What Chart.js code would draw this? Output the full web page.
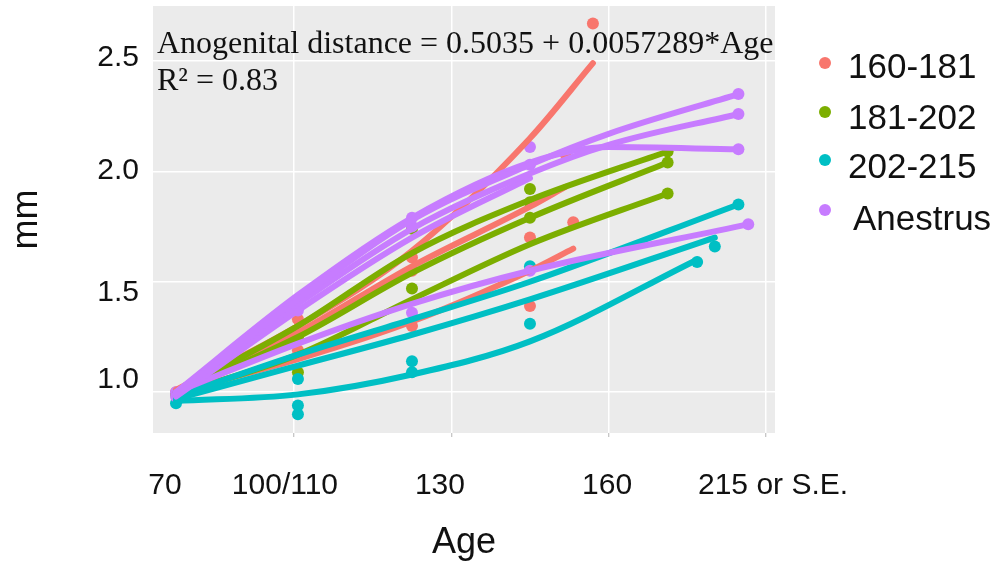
<!DOCTYPE html>
<html>
<head>
<meta charset="utf-8">
<script src="https://cdn.jsdelivr.net/npm/chart.js@4.4.0/dist/chart.umd.min.js"></script>
<style>
  body { margin: 0; background: #ffffff; }
  canvas { display: block; }
</style>
</head>
<body>
<canvas id="agdCanvas" width="1008" height="569"></canvas>
<script>
  const groupNames = ['160-181', '181-202', '202-215', 'Anestrus'];
  const groupColors = ['#F8766D', '#7CAE00', '#00BFC4', '#C77CFF'];

  // smoothed curve per animal (age in days, distance in mm)
  const redCurveAges = [[70, 101, 130, 160, 176], [70, 101, 130, 160, 171], [70, 101, 130, 160, 169]];
  const redCurveMm = [[1.01, 1.30, 1.64, 2.15, 2.49], [1.00, 1.15, 1.32, 1.55, 1.65], [1.00, 1.27, 1.57, 1.84, 1.93]];
  const greenCurveAges = [[70, 101, 130, 160, 195], [70, 101, 130, 160, 195], [70, 101, 130, 160, 195]];
  const greenCurveMm = [[1.00, 1.30, 1.63, 1.87, 2.09], [1.00, 1.25, 1.54, 1.79, 2.04], [0.99, 1.17, 1.42, 1.67, 1.90]];
  const cyanCurveAges = [[70, 101, 130, 160, 213], [70, 101, 130, 160, 207], [70, 101, 130, 160, 202.5]];
  const cyanCurveMm = [[0.98, 1.17, 1.33, 1.50, 1.85], [0.97, 1.12, 1.26, 1.42, 1.70], [0.96, 0.99, 1.08, 1.23, 1.60]];
  const purpleCurveAges = [[70, 101, 130, 160, 180, 213], [70, 101, 130, 160, 180, 213], [70, 101, 130, 160, 180, 213], [70, 101, 130, 160], [70, 101, 130, 160, 215.5]];
  const purpleCurveMm = [[0.99, 1.42, 1.78, 2.03, 2.17, 2.35], [1.00, 1.40, 1.74, 1.99, 2.12, 2.26], [1.00, 1.44, 1.79, 2.04, 2.11, 2.10], [0.98, 1.37, 1.70, 1.97], [1.00, 1.22, 1.40, 1.55, 1.76]];

  // measured points
  const redPointAges = [70, 101, 101, 101, 130, 130, 130, 160, 160, 169, 171, 176];
  const redPointMm = [1.00, 1.33, 1.25, 1.19, 1.61, 1.55, 1.30, 1.70, 1.39, 2.08, 1.77, 2.67];
  const greenPointAges = [70, 101, 101, 130, 130, 160, 160, 160, 195, 195, 195];
  const greenPointMm = [0.99, 1.25, 1.09, 1.74, 1.47, 1.92, 1.86, 1.79, 2.09, 2.04, 1.90];
  const cyanPointAges = [70, 101, 101, 101, 130, 130, 160, 160, 202.5, 207, 213];
  const cyanPointMm = [0.95, 1.06, 0.94, 0.90, 1.14, 1.09, 1.57, 1.31, 1.59, 1.66, 1.85];
  const purplePointAges = [70, 70, 101, 101, 130, 130, 130, 160, 160, 160, 213, 213, 213, 215.5];
  const purplePointMm = [1.00, 0.98, 1.42, 1.37, 1.79, 1.75, 1.36, 2.11, 2.03, 1.55, 2.35, 2.26, 2.10, 1.76];

  const xGridAges = [100, 140, 180, 220];
  const xTickLabels = ['70', '100/110', '130', '160', '215 or S.E.'];
  const xTickAt = [67.2, 97.7, 137.1, 179.6, 221.8];
  const yGridMm = [1.0, 1.5, 2.0, 2.5];
  const yTickLabels = ['1.0', '1.5', '2.0', '2.5'];
  const yTickAt = [1.054, 1.452, 2.003, 2.514];
  const fitText = 'Anogenital distance = 0.5035 + 0.0057289*Age';
  const r2Text = 'R\u00B2 = 0.83';

  const curveAges = [redCurveAges, greenCurveAges, cyanCurveAges, purpleCurveAges];
  const curveMm = [redCurveMm, greenCurveMm, cyanCurveMm, purpleCurveMm];
  const pointAges = [redPointAges, greenPointAges, cyanPointAges, purplePointAges];
  const pointMm = [redPointMm, greenPointMm, cyanPointMm, purplePointMm];

  Chart.defaults.font.family = '"Liberation Sans", Arial, sans-serif';

  let datasets = [];
  groupNames.forEach((name, g) => {
    curveAges[g].forEach((ages, i) => {
      datasets.push({
        label: '',
        data: ages.map((a, j) => ({ x: a, y: curveMm[g][i][j] })),
        showLine: true,
        borderColor: groupColors[g],
        borderWidth: 6,
        borderCapStyle: 'round',
        pointRadius: 0,
        cubicInterpolationMode: 'monotone',
        order: 4 - g
      });
    });
    datasets.push({
      label: name,
      data: pointAges[g].map((a, j) => ({ x: a, y: pointMm[g][j] })),
      backgroundColor: groupColors[g],
      borderWidth: 0,
      pointRadius: 6,
      order: 14 - g
    });
  });

  const panelBackground = {
    id: 'panelBackground',
    beforeDraw(chart) {
      const { ctx, chartArea: a } = chart;
      ctx.save();
      ctx.fillStyle = '#ffffff';
      ctx.fillRect(0, 0, chart.width, chart.height);
      ctx.fillStyle = '#EBEBEB';
      ctx.fillRect(a.left, a.top, a.right - a.left, a.bottom - a.top);
      ctx.restore();
    }
  };

  const fitLabel = {
    id: 'fitLabel',
    afterDraw(chart) {
      const ctx = chart.ctx;
      ctx.save();
      ctx.fillStyle = '#111111';
      ctx.font = '32px "Liberation Serif", "Times New Roman", serif';
      ctx.textBaseline = 'alphabetic';
      ctx.fillText(fitText, 157, 53);
      ctx.fillText(r2Text, 157, 90);
      ctx.restore();
    }
  };

  // legend drawn by hand so it sits where the ggplot one was
  const groupLegend = {
    id: 'groupLegend',
    afterDraw(chart) {
      const ctx = chart.ctx;
      const dotY = [63, 112, 160, 210];
      const textY = [68, 119, 168, 220];
      ctx.save();
      ctx.font = '35px "Liberation Sans", Arial, sans-serif';
      ctx.textBaseline = 'middle';
      groupNames.forEach((name, i) => {
        ctx.fillStyle = groupColors[i];
        ctx.beginPath();
        ctx.arc(825, dotY[i], 6, 0, Math.PI * 2);
        ctx.fill();
        ctx.fillStyle = '#111111';
        ctx.fillText(name, i === 3 ? 853 : 848, textY[i]);
      });
      ctx.restore();
    }
  };

  new Chart(document.getElementById('agdCanvas'), {
    type: 'scatter',
    data: { datasets: datasets },
    plugins: [panelBackground, fitLabel, groupLegend],
    options: {
      responsive: false,
      animation: false,
      events: [],
      layout: { padding: { top: 5, right: 233, left: 0, bottom: 0 } },
      plugins: { legend: { display: false }, tooltip: { enabled: false } },
      scales: {
        x: {
          type: 'linear',
          position: 'bottom',
          min: 64.15,
          max: 222.3,
          afterBuildTicks: s => { s.ticks = xGridAges.map(v => ({ value: v })); },
          afterFit: s => { s.height = 4; s.paddingLeft = 0; s.paddingRight = 0; },
          grid: { color: '#ffffff', lineWidth: 1.5, tickLength: 4, tickColor: '#b5b5b5', tickWidth: 1 },
          border: { display: false },
          ticks: { display: false }
        },
        xl: {
          type: 'linear',
          position: 'bottom',
          min: 64.15,
          max: 222.3,
          afterBuildTicks: s => { s.ticks = xTickAt.map(v => ({ value: v })); },
          afterFit: s => { s.height = 132; s.paddingLeft = 0; s.paddingRight = 0; },
          grid: { display: false, drawTicks: false },
          border: { display: false },
          ticks: {
            autoSkip: false,
            maxRotation: 0,
            padding: 31,
            color: '#111111',
            font: { size: 30 },
            callback: (v, i) => xTickLabels[i]
          },
          title: { display: true, text: 'Age', color: '#111111', font: { size: 36 }, padding: { top: 0, bottom: 4 } }
        },
        y: {
          type: 'linear',
          position: 'left',
          min: 0.815,
          max: 2.749,
          afterBuildTicks: s => { s.ticks = yGridMm.map(v => ({ value: v })); },
          afterFit: s => { s.width = 0; s.paddingTop = 0; s.paddingBottom = 0; },
          grid: { color: '#ffffff', lineWidth: 1.5, drawTicks: false },
          border: { display: false },
          ticks: { display: false }
        },
        yl: {
          type: 'linear',
          position: 'left',
          min: 0.815,
          max: 2.749,
          afterBuildTicks: s => { s.ticks = yTickAt.map(v => ({ value: v })); },
          afterFit: s => { s.width = 153; s.paddingTop = 0; s.paddingBottom = 0; },
          grid: { display: false, drawTicks: false },
          border: { display: false },
          ticks: { padding: 14, color: '#111111', font: { size: 30 }, callback: (v, i) => yTickLabels[i] },
          title: { display: true, text: 'mm', color: '#111111', font: { size: 36 }, padding: { top: 5, bottom: 0 } }
        }
      }
    }
  });
</script>
</body>
</html>
